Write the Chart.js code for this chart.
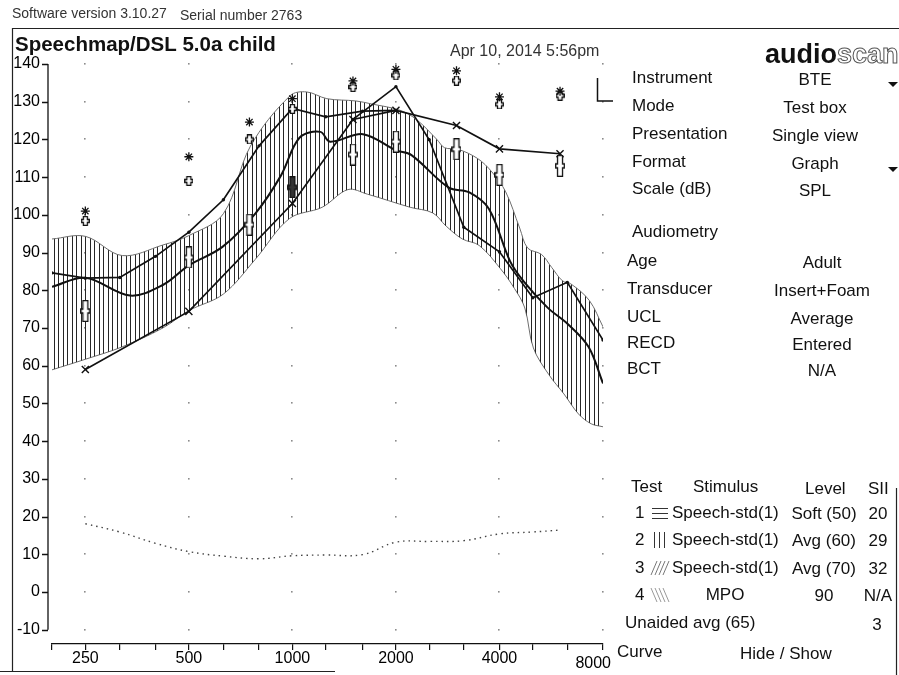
<!DOCTYPE html>
<html>
<head>
<meta charset="utf-8">
<script src="https://cdn.jsdelivr.net/npm/chart.js@4.4.1/dist/chart.umd.min.js"></script>
<style>
  html, body { margin: 0; padding: 0; background: #fff; }
  canvas { display: block; }
</style>
</head>
<body>
<canvas id="speechmap" width="899" height="675"></canvas>
<script>
// axis ticks
const xTickHz = [200, 250, 315, 400, 500, 630, 800, 1000, 1250, 1600, 2000, 2500, 3150, 4000, 5000, 6300, 8000];
const xLabelHz = [250, 500, 1000, 2000, 4000, 8000];
const yTickDb = [-10, 0, 10, 20, 30, 40, 50, 60, 70, 80, 90, 100, 110, 120, 130, 140];

// speech envelope, test 2 (avg 60)
const bandUpperHz = [200, 250, 320, 420, 500, 630, 755, 985, 1100, 1260, 1530, 1700, 2060, 2300, 2630, 2770, 3030, 3460, 3800, 4170, 4580, 4830, 5300, 5680, 6100, 6450, 7300, 8000];
const bandUpperDb = [93.6, 94.3, 89.2, 92, 94.5, 100.3, 118.2, 131.6, 132.6, 130.8, 130.2, 129.4, 127.7, 125.2, 120, 117.8, 117.4, 114.9, 111.4, 106.1, 96.5, 91.2, 89.5, 86, 82.5, 81.7, 77.3, 70.3];
const bandLowerHz = [200, 250, 320, 420, 500, 630, 780, 980, 1220, 1450, 1650, 2200, 2560, 2800, 3120, 3490, 4020, 4420, 4740, 5020, 5560, 6160, 6790, 7390, 8000];
const bandLowerDb = [58.9, 61.7, 65, 70, 74.6, 79, 88.2, 99, 102, 106.7, 105.5, 102, 100.5, 97, 93.6, 91.9, 85.8, 80.5, 75.3, 64.7, 57.7, 52.5, 47.2, 44.6, 43.8];

// LTASS curve inside the envelope
const ltassHz = [200, 250, 337, 420, 500, 626, 781, 926, 1050, 1206, 1287, 1604, 2000, 2214, 2850, 3260, 3725, 4300, 4710, 5520, 6330, 7260, 8000];
const ltassDb = [80.9, 83.3, 78.6, 81.4, 86.6, 91.5, 100.4, 110.4, 120.5, 122, 119.4, 121.4, 117.1, 115.9, 107.2, 106, 101.6, 87.6, 82.3, 75.4, 71, 65, 55.3];

// upper measured curve
const upperHz = [200, 250, 315, 400, 500, 630, 800, 1000, 1250, 1600, 2000];
const upperDb = [84.6, 83.2, 83.4, 89, 95.4, 104, 118.3, 128.2, 126, 127.5, 127.7];

// peaked curve
const peakHz = [1500, 2000, 2500, 3150, 4000, 5000, 6300, 8000];
const peakDb = [125.3, 134, 119.9, 96.7, 90.2, 78, 82.1, 66.8];

// thresholds (left ear, X)
const thrHz = [250, 500, 1000, 1500, 2000, 3000, 4000, 6000];
const thrDb = [59, 74.4, 103, 125.3, 127.7, 123.7, 117.5, 116.2];

// targets, UCL, MPO targets
const audHz = [250, 500, 750, 1000, 1500, 2000, 3000, 4000, 6000];
const avgTargetDb = [74.5, 88.7, 97.4, 107.3, 116, 119.4, 117.4, 110.6, 113];
const uclDb = [101, 115.4, 124.6, 130.8, 135.5, 138.6, 138.2, 131.3, 132.8];
const mpoTargetDb = [98.4, 109, 120, 128.1, 133.9, 137, 135.6, 129.3, 131.6];

// unaided avg (65), dotted
const unaidedHz = [250, 315, 400, 500, 630, 800, 1000, 1250, 1600, 2000, 2500, 3150, 4000, 5000, 6000];
const unaidedDb = [18.1, 15.9, 12.9, 10.7, 9.5, 8.8, 9.6, 9.8, 9.9, 13.2, 13.4, 13.6, 15.4, 15.9, 16.4];

// side panel text
const settingNames = ['Instrument', 'Mode', 'Presentation', 'Format', 'Scale (dB)'];
const settingValues = ['BTE', 'Test box', 'Single view', 'Graph', 'SPL'];
const audioNames = ['Age', 'Transducer', 'UCL', 'RECD', 'BCT'];
const audioValues = ['Adult', 'Insert+Foam', 'Average', 'Entered', 'N/A'];
const testNums = ['1', '2', '3', '4'];
const testStimuli = ['Speech-std(1)', 'Speech-std(1)', 'Speech-std(1)', 'MPO'];
const testLevels = ['Soft (50)', 'Avg (60)', 'Avg (70)', '90'];
const testSII = ['20', '29', '32', 'N/A'];

const pts = (xs, ys) => xs.map((f, i) => ({ x: f, y: ys[i] }));
const FONT = '"Liberation Sans", Arial, sans-serif';
Chart.defaults.font.family = FONT;

const canvas = document.getElementById('speechmap');
const ctx0 = canvas.getContext('2d');

// vertical hatch for the envelope
const hatch = document.createElement('canvas');
hatch.width = 9; hatch.height = 8;
const hg = hatch.getContext('2d');
hg.fillStyle = '#262626';
hg.fillRect(0, 0, 1, 8);
hg.fillRect(4, 0, 1, 8);
const hatchPattern = ctx0.createPattern(hatch, 'repeat');

// outlined cross sprites for targets
function crossSprite(w, h, bar, arm, armTop, fill) {
  const c = document.createElement('canvas');
  c.width = w; c.height = h;
  const g = c.getContext('2d');
  const bx = (w - bar) / 2;
  g.beginPath();
  g.moveTo(bx, 0.7); g.lineTo(bx + bar, 0.7); g.lineTo(bx + bar, armTop);
  g.lineTo(w - 0.7, armTop); g.lineTo(w - 0.7, armTop + arm); g.lineTo(bx + bar, armTop + arm);
  g.lineTo(bx + bar, h - 0.7); g.lineTo(bx, h - 0.7); g.lineTo(bx, armTop + arm);
  g.lineTo(0.7, armTop + arm); g.lineTo(0.7, armTop); g.lineTo(bx, armTop);
  g.closePath();
  g.fillStyle = fill; g.fill();
  g.lineWidth = 1.3; g.strokeStyle = '#111'; g.stroke();
  return c;
}
const tallCross = crossSprite(10, 22, 5, 4, 9, '#fff');
const tallCrossDark = crossSprite(10, 22, 5, 4, 9, '#333');
const smallCross = crossSprite(9, 10, 4, 3, 3.5, '#fff');
const targetStyles = audHz.map(f => f === 1000 ? tallCrossDark : tallCross);

const decor = {
  id: 'decor',
  beforeDatasetsDraw(chart) {
    const { ctx, scales: { x, y } } = chart;
    ctx.save();
    ctx.fillStyle = '#8c8c8c';
    for (const f of xLabelHz) {
      for (const v of yTickDb) {
        ctx.fillRect(Math.round(x.getPixelForValue(f)) - 1, Math.round(y.getPixelForValue(v)) - 1, 1.6, 1.6);
      }
    }
    // y axis line with outward ticks
    ctx.strokeStyle = '#111';
    ctx.lineWidth = 1.3;
    ctx.beginPath();
    ctx.moveTo(48, y.getPixelForValue(140));
    ctx.lineTo(48, y.getPixelForValue(-10));
    for (const v of yTickDb) {
      const py = Math.round(y.getPixelForValue(v)) + 0.5;
      ctx.moveTo(42, py); ctx.lineTo(48, py);
    }
    ctx.stroke();
    ctx.restore();
  },
  afterDraw(chart) {
    const ctx = chart.ctx;
    const x = chart.scales.x;
    ctx.save();
    const seg = (x1, y1, x2, y2) => { ctx.beginPath(); ctx.moveTo(x1, y1); ctx.lineTo(x2, y2); ctx.stroke(); };

    // frequency labels (last one pulled inside, as on the printout)
    ctx.fillStyle = '#000';
    ctx.font = '16px ' + FONT;
    ctx.textBaseline = 'middle';
    xLabelHz.forEach((f, i) => {
      const last = i === xLabelHz.length - 1;
      ctx.textAlign = last ? 'right' : 'center';
      ctx.fillText(String(f), last ? x.getPixelForValue(f) + 8 : x.getPixelForValue(f), last ? 664 : 659);
    });

    // page frame
    ctx.strokeStyle = '#222';
    ctx.lineWidth = 1.2;
    seg(12, 28.5, 899, 28.5);
    seg(12.5, 28, 12.5, 671);
    seg(0, 671.5, 335, 671.5);
    seg(896.5, 488, 896.5, 675);

    // header
    ctx.fillStyle = '#333';
    ctx.textBaseline = 'alphabetic';
    ctx.textAlign = 'left';
    ctx.font = '14px ' + FONT;
    ctx.fillText('Software version 3.10.27', 12, 18);
    ctx.fillText('Serial number 2763', 180, 20);
    ctx.fillStyle = '#111';
    ctx.font = 'bold 20.5px ' + FONT;
    ctx.fillText('Speechmap/DSL 5.0a child', 15, 51);
    ctx.fillStyle = '#333';
    ctx.font = '16px ' + FONT;
    ctx.fillText('Apr 10, 2014 5:56pm', 450, 56);

    // logo
    ctx.font = 'bold 27px ' + FONT;
    ctx.fillStyle = '#111';
    ctx.fillText('audio', 765, 63);
    const aw = ctx.measureText('audio').width;
    ctx.strokeStyle = '#555';
    ctx.lineWidth = 1;
    ctx.strokeText('scan', 765 + aw, 63);

    // ear mark
    ctx.strokeStyle = '#111';
    ctx.lineWidth = 1.5;
    ctx.beginPath();
    ctx.moveTo(597.5, 78); ctx.lineTo(597.5, 101); ctx.lineTo(613, 101);
    ctx.stroke();

    // settings panel
    ctx.fillStyle = '#111';
    ctx.font = '17px ' + FONT;
    ctx.textBaseline = 'middle';
    const setY = [78, 106, 134, 162, 189];
    settingNames.forEach((t, i) => {
      ctx.textAlign = 'left'; ctx.fillText(t, 632, setY[i]);
      ctx.textAlign = 'center'; ctx.fillText(settingValues[i], 815, setY[i] + 2);
    });
    ctx.textAlign = 'left';
    ctx.fillText('Audiometry', 632, 232);
    const audY = [261, 289, 317, 343, 369];
    audioNames.forEach((t, i) => {
      ctx.textAlign = 'left'; ctx.fillText(t, 627, audY[i]);
      ctx.textAlign = 'center'; ctx.fillText(audioValues[i], 822, audY[i] + 2);
    });
    // dropdown arrows
    for (const ty of [82, 167]) {
      ctx.beginPath();
      ctx.moveTo(888, ty); ctx.lineTo(898, ty); ctx.lineTo(893, ty + 5);
      ctx.closePath(); ctx.fill();
    }

    // test legend
    ctx.textAlign = 'left';
    ctx.fillText('Test', 631, 487);
    ctx.fillText('Stimulus', 693, 487);
    ctx.fillText('Level', 805, 489);
    ctx.fillText('SII', 868, 489);
    const rowY = [513, 540, 568, 595];
    testNums.forEach((n, i) => {
      const ry = rowY[i];
      ctx.textAlign = 'left';
      ctx.fillText(n, 635, ry);
      if (i < 3) ctx.fillText(testStimuli[i], 672, ry);
      else { ctx.textAlign = 'center'; ctx.fillText(testStimuli[i], 725, ry); }
      ctx.textAlign = 'center';
      ctx.fillText(testLevels[i], 824, ry + 1);
      ctx.fillText(testSII[i], 878, ry + 1);
    });
    ctx.textAlign = 'left';
    ctx.fillText('Unaided avg (65)', 625, 623);
    ctx.textAlign = 'center';
    ctx.fillText('3', 877, 625);
    ctx.textAlign = 'left';
    ctx.fillText('Curve', 617, 652);
    ctx.fillText('Hide / Show', 740, 654);

    // legend swatches
    ctx.lineWidth = 1;
    ctx.strokeStyle = '#333';
    for (const sy of [508.5, 513.5, 518.5]) seg(652, sy, 668, sy);
    for (const sx of [654.5, 659.5, 664.5]) seg(sx, 532, sx, 548);
    ctx.strokeStyle = '#777';
    for (let k = 0; k < 4; k++) seg(651 + k * 4, 575, 657 + k * 4, 561);
    ctx.strokeStyle = '#999';
    for (let k = 0; k < 4; k++) seg(651 + k * 4, 588, 657 + k * 4, 602);
    ctx.restore();
  }
};

new Chart(canvas, {
  type: 'line',
  data: {
    datasets: [
      { data: pts(bandUpperHz, bandUpperDb), fill: '+1', backgroundColor: hatchPattern,
        borderColor: '#6e6e6e', borderWidth: 1, pointRadius: 0, tension: 0.35, order: 10 },
      { data: pts(bandLowerHz, bandLowerDb), fill: false,
        borderColor: '#6e6e6e', borderWidth: 1, pointRadius: 0, tension: 0.35, order: 10 },
      { data: pts(unaidedHz, unaidedDb), borderColor: '#444', borderWidth: 1.4, borderDash: [1.5, 4],
        pointRadius: 0, tension: 0.4, order: 6 },
      { data: pts(ltassHz, ltassDb), borderColor: '#111', borderWidth: 2, pointRadius: 0, tension: 0.35, order: 5 },
      { data: pts(upperHz, upperDb), borderColor: '#111', borderWidth: 1.7, tension: 0,
        pointRadius: 1.7, pointBackgroundColor: '#111', pointBorderWidth: 0, order: 5 },
      { data: pts(peakHz, peakDb), borderColor: '#111', borderWidth: 1.7, tension: 0,
        pointRadius: 1.7, pointBackgroundColor: '#111', pointBorderWidth: 0, order: 5 },
      { data: pts(thrHz, thrDb), borderColor: '#111', borderWidth: 1.7, tension: 0,
        pointStyle: 'crossRot', pointRadius: 5, pointBorderWidth: 1.4, pointBorderColor: '#111', order: 4 },
      { data: pts(audHz, avgTargetDb), showLine: false, pointStyle: targetStyles, order: 2 },
      { data: pts(audHz, mpoTargetDb), showLine: false, pointStyle: smallCross, order: 2 },
      { data: pts(audHz, uclDb), showLine: false, pointStyle: 'star', pointRadius: 4.5,
        pointBorderWidth: 1.3, pointBorderColor: '#111', order: 1 }
    ]
  },
  options: {
    responsive: false,
    animation: false,
    devicePixelRatio: 1,
    layout: { padding: { left: 0, top: 64, right: 296, bottom: 0 } },
    plugins: { legend: { display: false }, tooltip: { enabled: false } },
    events: [],
    scales: {
      x: {
        type: 'logarithmic', min: 200, max: 8000,
        afterBuildTicks: s => { s.ticks = xTickHz.map(v => ({ value: v })); },
        afterFit: s => { s.height = 31; },
        ticks: { display: false, autoSkip: false, maxRotation: 0 },
        grid: { drawOnChartArea: false, drawTicks: true, tickLength: 6, color: '#111', lineWidth: 1.2 },
        border: { display: true, color: '#111', width: 1.3 }
      },
      y: {
        type: 'linear', min: -13.8, max: 140,
        afterBuildTicks: s => { s.ticks = yTickDb.map(v => ({ value: v })); },
        afterFit: s => { s.width = 52; },
        ticks: { padding: 12, color: '#000', font: { size: 16 }, callback: v => String(v) },
        grid: { display: false, drawTicks: false },
        border: { display: false }
      }
    }
  },
  plugins: [decor]
});
</script>
</body>
</html>
